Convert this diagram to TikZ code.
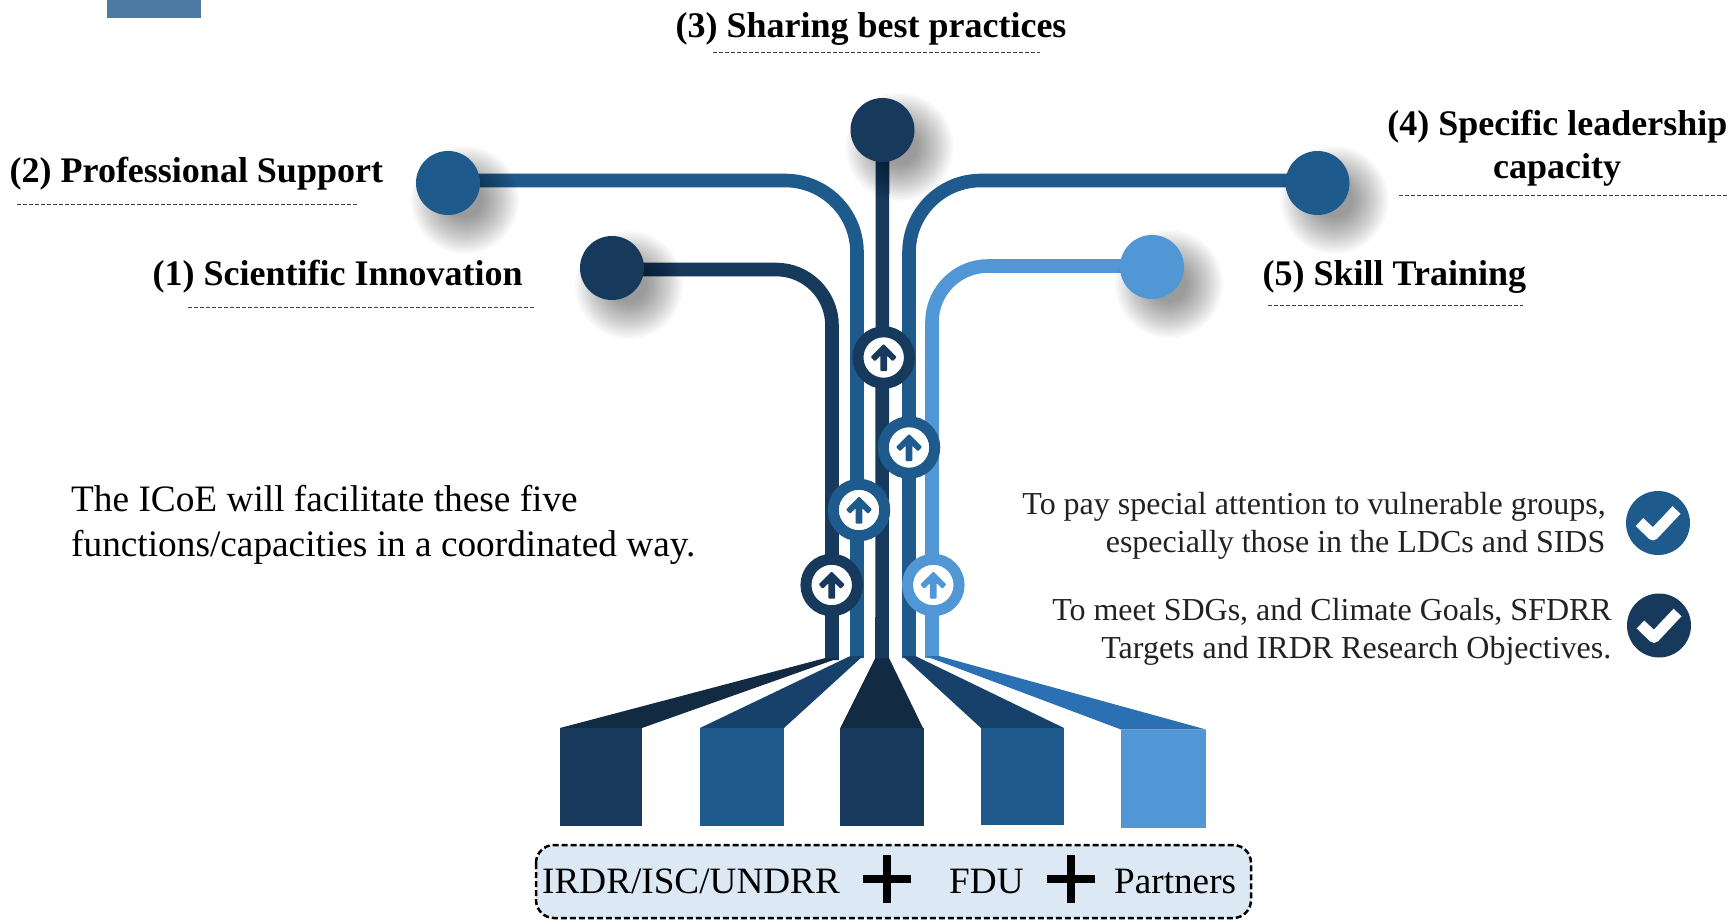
\documentclass[tikz,border=0pt]{standalone}
\usepackage{fontspec}
\setmainfont{Liberation Serif}
\definecolor{cdark}{HTML}{173A5C}
\definecolor{cblue}{HTML}{1F5A8C}
\definecolor{clight}{HTML}{5297D5}
\definecolor{ctrapA}{HTML}{122B42}
\definecolor{ctrapB}{HTML}{17406A}
\definecolor{ctrapC}{HTML}{2C70B4}
\definecolor{ctop}{HTML}{4C7AA3}
\definecolor{cbox}{HTML}{DCE9F5}
\definecolor{ctext}{HTML}{222222}
\tikzset{
  x=1pt,y=-1pt,
  dot/.style={circle,inner sep=0pt,outer sep=0pt,minimum size=64pt,fill=#1},
  flow/.style={line width=13.6pt,draw=#1},
  ring/.style={circle,inner sep=0pt,outer sep=0pt,minimum size=51.5pt,line width=11pt,draw=#1,fill=white},
  title/.style={inner sep=0pt,font=\fontsize{36}{42}\selectfont\bfseries,text=black},
  note/.style={inner sep=0pt,font=\fontsize{32}{38}\selectfont,text=ctext},
  lead/.style={inner sep=0pt,font=\fontsize{37.3}{44}\selectfont,text=black},
  boxtxt/.style={inner sep=0pt,font=\fontsize{37.2}{44}\selectfont,text=black},
  ruleline/.style={draw=black!75,line width=0.7pt,dash pattern=on 3.5pt off 2.5pt},
  pluslines/.style={line width=8pt,draw=black},
  pics/uparrow/.style={code={
    \fill[#1,rounded corners=0.8pt] (0,-13.5) -- (13,-0.5) -- (9,3.8) -- (3.4,-1.8) -- (3.4,13.5) -- (-3.4,13.5) -- (-3.4,-1.8) -- (-9,3.8) -- (-13,-0.5) -- cycle;
  }},
  pics/softshadow/.style={code={
    \foreach \r in {18,20,...,54}{\fill[black,opacity=0.023] (17,17) circle[radius=\r];}
  }},
  pics/tick/.style={code={
    \draw[white,line width=11pt,line join=round] (-18.5,-1) -- (-5,12) -- (18.5,-13);
  }}
}
\begin{document}
\begin{tikzpicture}
\useasboundingbox (0,0) rectangle (1730,920);
\fill[white] (0,0) rectangle (1730,920);
\fill[ctop] (107,0) rectangle (201,18);

% named anchors
\coordinate (b1) at (832,660);
\coordinate (b2) at (857,658);
\coordinate (b3) at (882,660);
\coordinate (b4) at (909,658);
\coordinate (b5) at (932,658);
\coordinate (p1) at (612,268);
\coordinate (p2) at (448,183);
\coordinate (p3) at (882.5,130);
\coordinate (p4) at (1317.5,183);
\coordinate (p5) at (1152,267);

% connectors
\node[dot=cdark,draw=none,fill=none] (c1) at (p1) {};
\node[dot=cblue,draw=none,fill=none] (c2) at (p2) {};
\node[dot=cdark,draw=none,fill=none] (c3) at (p3) {};
\node[dot=cblue,draw=none,fill=none] (c4) at (p4) {};
\node[dot=clight,draw=none,fill=none] (c5) at (p5) {};
\draw[flow=cdark,rounded corners=56pt] ([yshift=-1.5pt]c1.center) -| (b1);
\draw[flow=cblue,rounded corners=72pt] ([yshift=2.5pt]c2.center) -| (b2);
\draw[flow=cdark] (c3.center) -- (b3);
\draw[flow=cblue,rounded corners=72pt] ([yshift=2.5pt]c4.center) -| (b4);
\draw[flow=clight,rounded corners=56pt] ([yshift=1pt]c5.center) -| (b5);

% shadows and circles
\foreach \n in {1,...,5}{\pic at (p\n) {softshadow};}
\node[dot=cdark] at (p1) {};
\node[dot=cblue] at (p2) {};
\node[dot=cdark] at (p3) {};
\node[dot=cblue] at (p4) {};
\node[dot=clight] at (p5) {};

% badges
\node[ring=cdark] (r3) at (883.7,357.5) {}; \pic at (r3) {uparrow=cdark};
\node[ring=cblue] (r4) at (909,447.5) {}; \pic at (r4) {uparrow=cblue};
\node[ring=cblue] (r2) at (859,510) {}; \pic at (r2) {uparrow=cblue};
\node[ring=cdark] (r1) at (831.7,585) {}; \pic at (r1) {uparrow=cdark};
\node[ring=clight] (r5) at (933.3,585) {}; \pic at (r5) {uparrow=clight};

% fans and blocks
\fill[ctrapA] (560,728) -- (825.5,658) -- (839,658) -- (642,728) -- cycle;
\fill[ctrapB] (700,728) -- (850.3,656) -- (863,656) -- (784,728) -- cycle;
\fill[ctrapA] (840.3,728) -- (875.3,658) -- (889,658) -- (923,728) -- cycle;
\fill[ctrapB] (981,728) -- (902.5,656) -- (915.3,656) -- (1064,728) -- cycle;
\fill[ctrapC] (1121,729.5) -- (925.3,656) -- (939,656) -- (1206,729.5) -- cycle;
\fill[cdark] (560,728) rectangle (642,826);
\fill[cblue] (700,728) rectangle (784,826);
\fill[cdark] (840,728) rectangle (924,826);
\fill[cblue] (981,728) rectangle (1064,825);
\fill[clight] (1121,729.5) rectangle (1206,828);

% bottom box
\draw[fill=cbox,draw=black,line width=2.5pt,dash pattern=on 6pt off 3pt,rounded corners=18pt] (536,845) rectangle (1251,918);
\node[boxtxt,anchor=base west] (t1) at (542,893.5) {IRDR/ISC/UNDRR};
\node[boxtxt,anchor=base west] (t2) at (949,893.5) {FDU};
\node[boxtxt,anchor=base west] (t3) at (1114,893.5) {Partners};
\draw[pluslines] (863,879) -- (911,879) (887,855) -- (887,903);
\draw[pluslines] (1047,879) -- (1095,879) (1071,855) -- (1071,903);

% titles
\node[title,anchor=base] (h3) at (871,38) {(3) Sharing best practices};
\draw[ruleline] (713,52) -- (1040,52);
\node[title,anchor=base west] (h2) at (9.5,182.5) {(2) Professional Support};
\draw[ruleline] (17,204) -- (359,204);
\node[title,anchor=base west] (h1) at (152.5,285.5) {(1) Scientific Innovation};
\draw[ruleline] (188,307.5) -- (534,307.5);
\node[title,anchor=base east] (h4a) at (1727.5,136) {(4) Specific leadership};
\node[title,anchor=base] (h4b) at (1557,179) {capacity};
\draw[ruleline] (1399,195) -- (1728,195);
\node[title,anchor=base west] (h5) at (1262.5,285.5) {(5) Skill Training};
\draw[ruleline] (1268,305.5) -- (1523,305.5);

% left text
\node[lead,anchor=base west] (l1) at (71,511) {The ICoE will facilitate these five};
\node[lead,anchor=base west] (l2) at (71,556) {functions/capacities in a coordinated way.};

% right notes
\node[note,anchor=base east] (n1) at (1606,514) {To pay special attention to vulnerable groups,};
\node[note,anchor=base east] (n2) at (1605.5,552.5) {especially those in the LDCs and SIDS};
\node[note,anchor=base east] (n3) at (1612,620) {To meet SDGs, and Climate Goals, SFDRR};
\node[note,anchor=base east] (n4) at (1611.5,658) {Targets and IRDR Research Objectives.};
\node[dot=cblue] (k1) at (1658,523) {}; \pic at (k1) {tick};
\node[dot=cdark] (k2) at (1659,625.5) {}; \pic at (k2) {tick};
\end{tikzpicture}
\end{document}
